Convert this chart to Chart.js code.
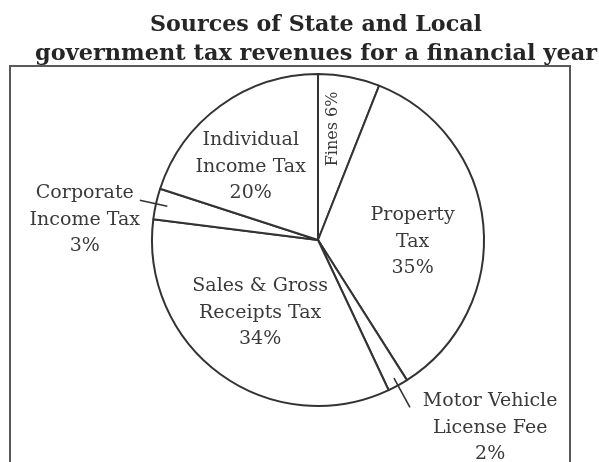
<!DOCTYPE html>
<html>
<head>
<meta charset="utf-8">
<script src="https://cdn.jsdelivr.net/npm/chart.js"></script>
<style>
  body { margin: 0; background: #fff; }
  #wrap { width: 599px; height: 462px; position: relative; }
</style>
</head>
<body>
<div id="wrap"><canvas id="taxChart" width="599" height="462"></canvas></div>
<script>
// chart data, clockwise from 12 o'clock
const categories = ["Fines", "Property Tax", "Motor Vehicle License Fee", "Sales & Gross Receipts Tax", "Corporate Income Tax", "Individual Income Tax"];
const shares = [6, 35, 2, 34, 3, 20];
const labelLines = [["Fines"], ["Property", "Tax"], ["Motor Vehicle", "License Fee"], ["Sales & Gross", "Receipts Tax"], ["Corporate", "Income Tax"], ["Individual", "Income Tax"]];
const titleLines = ["Sources of State and Local", "government tax revenues for a financial year"];

// where each label sits: angle in degrees from top (clockwise), distance as part of radius
const placement = [
  { angle: 7.7, r: 0.675, rotate: true },
  { angle: 91.2, r: 0.57 },
  { angle: 137.5, r: 1.535, leader: [0.95, 1.15] },
  { angle: 218.5, r: 0.56 },
  { angle: 274.9, r: 1.41, leader: [0.93, 1.1] },
  { angle: 317.5, r: 0.6 },
];

const ink = "#333";
const textInk = "#3a3a3a";

// title, frame and slice labels
const decorPlugin = {
  id: "decor",
  afterDraw(chart) {
    const ctx = chart.ctx;
    ctx.save();

    // title (squeezed to the widths in the scan)
    ctx.fillStyle = "#262626";
    ctx.textAlign = "center";
    ctx.textBaseline = "alphabetic";
    ctx.font = "bold 23px 'DejaVu Serif'";
    const titleY = [31, 60];
    const titleW = [332, 562];
    titleLines.forEach((line, i) => {
      const w = ctx.measureText(line).width;
      ctx.save();
      ctx.translate(316, titleY[i]);
      ctx.scale(titleW[i] / w, 1);
      ctx.fillText(line, 0, 0);
      ctx.restore();
    });

    // frame around the pie
    ctx.strokeStyle = "#5a5a5a";
    ctx.lineWidth = 2;
    ctx.beginPath();
    ctx.moveTo(10, 470);
    ctx.lineTo(10, 66);
    ctx.lineTo(570, 66);
    ctx.lineTo(570, 470);
    ctx.stroke();

    const meta = chart.getDatasetMeta(0);
    meta.data.forEach((arc, i) => {
      const p = arc.getProps(["x", "y", "startAngle", "endAngle", "outerRadius"], true);
      const R = p.outerRadius;
      const place = placement[i];
      const a = (place.angle - 90) * Math.PI / 180;
      const lx = p.x + Math.cos(a) * R * place.r;
      const ly = p.y + Math.sin(a) * R * place.r;

      // leader line along the middle of the thin slices
      if (place.leader) {
        const mid = (p.startAngle + p.endAngle) / 2;
        ctx.strokeStyle = ink;
        ctx.lineWidth = 1.6;
        ctx.beginPath();
        ctx.moveTo(p.x + Math.cos(mid) * R * place.leader[0], p.y + Math.sin(mid) * R * place.leader[0]);
        ctx.lineTo(p.x + Math.cos(mid) * R * place.leader[1], p.y + Math.sin(mid) * R * place.leader[1]);
        ctx.stroke();
      }

      ctx.fillStyle = textInk;
      ctx.textAlign = "center";
      ctx.textBaseline = "middle";

      if (place.rotate) {
        ctx.font = "16px 'DejaVu Serif'";
        ctx.save();
        ctx.translate(lx, ly);
        ctx.rotate(-Math.PI / 2);
        ctx.fillText(labelLines[i][0] + " " + shares[i] + "%", 0, 0);
        ctx.restore();
        return;
      }

      ctx.font = "19px 'DejaVu Serif'";
      const lines = labelLines[i].concat([shares[i] + "%"]);
      const lh = 26.5;
      lines.forEach((t, k) => {
        ctx.fillText(t, lx, ly + (k - (lines.length - 1) / 2) * lh);
      });
    });

    ctx.restore();
  },
};

new Chart(document.getElementById("taxChart").getContext("2d"), {
  type: "pie",
  data: {
    labels: categories,
    datasets: [
      {
        data: shares,
        backgroundColor: "#ffffff",
        borderColor: ink,
        borderWidth: 2,
        hoverOffset: 0,
      },
    ],
  },
  options: {
    responsive: false,
    animation: false,
    layout: { padding: { top: 73, bottom: 55, left: 151, right: 114 } },
    plugins: {
      legend: { display: false },
      tooltip: { enabled: false },
      title: { display: false },
    },
  },
  plugins: [decorPlugin],
});
</script>
</body>
</html>
